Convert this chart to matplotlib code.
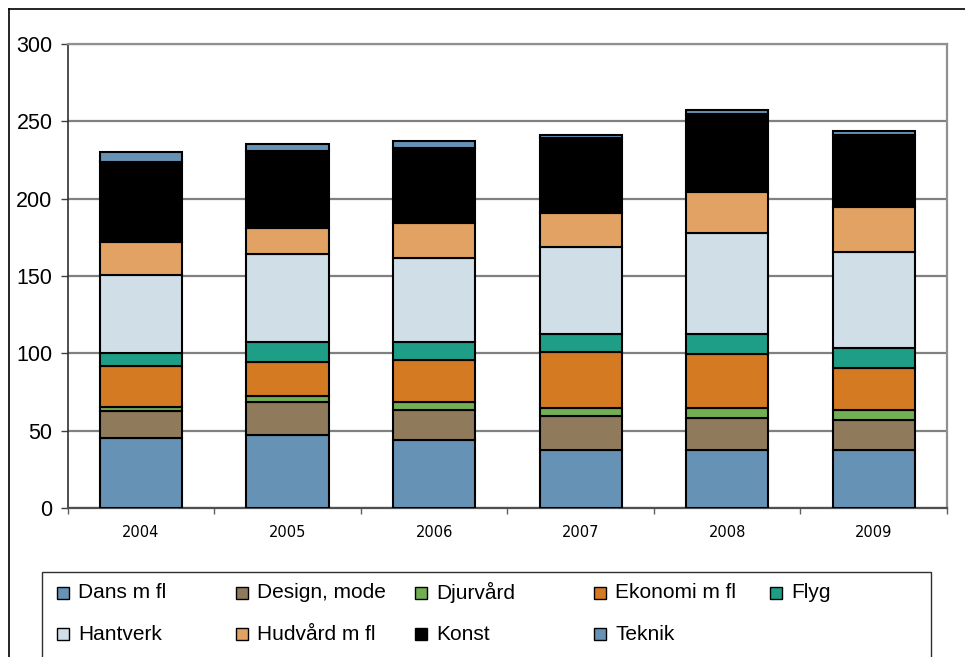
import matplotlib
matplotlib.use("Agg")
import matplotlib.pyplot as plt
from matplotlib.patches import Rectangle
from matplotlib.lines import Line2D
import numpy as np

plt.rcParams['font.family'] = ['Liberation Sans', 'DejaVu Sans']

years = ["2004", "2005", "2006", "2007", "2008", "2009"]
series_names = ["Dans m fl", "Design, mode", "Djurvård", "Ekonomi m fl", "Flyg",
                "Hantverk", "Hudvård m fl", "Konst", "Teknik"]
dans = [45, 47.5, 44, 37.5, 37.5, 37.5]
design = [18, 21, 19.5, 22, 21, 19.5]
djurvard = [2.5, 4, 5, 5, 6, 6.5]
ekonomi = [26, 22, 27, 36.5, 35, 27]
flyg = [9, 13, 12, 11.5, 13, 13]
hantverk = [50, 57, 54, 56, 65, 62]
hudvard = [21.5, 16.5, 23, 22.5, 26.5, 29]
konst = [52, 50, 48, 48, 50.5, 46.5]
teknik = [6, 4.5, 4.5, 2.2, 3, 3]
yticks = [0, 50, 100, 150, 200, 250, 300]

series_values = [dans, design, djurvard, ekonomi, flyg, hantverk, hudvard, konst, teknik]
colors = ["#6592B5", "#8F7A5B", "#72AE52", "#D47A23", "#1F9E87",
          "#D0DEE8", "#E2A263", "#000000", "#6592B5"]

W, H = 965, 657
fig = plt.figure(figsize=(W / 100, H / 100), dpi=100)

def fx(px):
    return px / W

def fy(py):
    return 1 - py / H

ax = fig.add_axes([fx(67.7), fy(508), fx(947) - fx(67.7), fy(44) - fy(508)])

x = np.arange(len(years))
bottom = np.zeros(len(years))
for name, vals, c in zip(series_names, series_values, colors):
    v = np.array(vals, dtype=float)
    ax.bar(x, v, bottom=bottom, width=0.56, color=c, edgecolor="black",
           linewidth=1.5, zorder=3, label=name)
    bottom += v

ax.set_xlim(-0.5, len(years) - 0.5)
ax.set_ylim(0, 300)
ax.set_yticks(yticks)
ax.set_yticklabels([str(t) for t in yticks], fontsize=15.5)
ax.set_xticks(x)
ax.set_xticklabels(years, fontsize=10.5, family=['DejaVu Sans'])
ax.set_xticks(np.arange(-0.5, len(years), 1.0), minor=True)
ax.tick_params(axis='x', which='major', length=0, pad=12)
ax.tick_params(axis='x', which='minor', length=4, width=1, color="#606060")
ax.tick_params(axis='y', which='major', length=5, width=1, color="#404040", pad=6)

ax.yaxis.grid(True, color="#808080", linewidth=1.6, zorder=0)
ax.set_axisbelow(True)
for s in ["top", "right"]:
    ax.spines[s].set_color("#909090")
    ax.spines[s].set_linewidth(1.6)
ax.spines["left"].set_color("#303030")
ax.spines["left"].set_linewidth(1.2)
ax.spines["bottom"].set_color("#505050")
ax.spines["bottom"].set_linewidth(1.6)

# outer frame (left and top visible)
fig.add_artist(Line2D([fx(9), fx(9)], [fy(9), fy(H + 5)], color="black", lw=1.2))
fig.add_artist(Line2D([fx(9), fx(W + 5)], [fy(9), fy(9)], color="black", lw=1.2))

# legend box
fig.add_artist(Rectangle((fx(41.7), fy(H + 10)), fx(930.7) - fx(41.7), fy(572) - fy(H + 10),
                         facecolor="white", edgecolor="#303030", lw=1.0))

col_x = [57, 236, 415, 594, 770]
row_y = [592.5, 634]
for i, (name, c) in enumerate(zip(series_names, colors)):
    r, col = divmod(i, 5)
    px, py = col_x[col], row_y[r]
    sq = 12
    fig.add_artist(Rectangle((fx(px), fy(py + sq / 2)), fx(sq), fy(0) - fy(sq),
                             facecolor=c, edgecolor="black", lw=1.0))
    fig.text(fx(px + 21), fy(py), name, fontsize=15, va="center", ha="left")

fig.savefig("out.png", dpi=100)
